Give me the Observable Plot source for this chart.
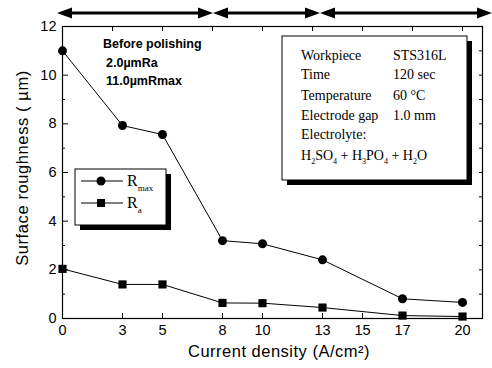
<!DOCTYPE html>
<html>
<head>
<meta charset="utf-8">
<script src="https://cdn.jsdelivr.net/npm/d3@7"></script>
<script src="https://cdn.jsdelivr.net/npm/@observablehq/plot@0.6"></script>
<style>
  body { margin: 0; background: #fff; }
  #chart svg { display: block; }
</style>
</head>
<body>
<div id="chart"></div>
<script>
// ---- data ----
const currentDensity = [0, 3, 5, 8, 10, 13, 17, 20];
const rmaxValues = [11.0, 7.93, 7.56, 3.2, 3.07, 2.41, 0.81, 0.66];
const raValues = [2.04, 1.40, 1.40, 0.64, 0.63, 0.45, 0.12, 0.08];
const xTicks = [0, 3, 5, 8, 10, 13, 15, 17, 20];
const yTicks = [0, 2, 4, 6, 8, 10, 12];
const yMinorTicks = [1, 3, 5, 7, 9, 11];
const topTicks = [2.5, 5, 7.5, 10, 12.5, 15, 17.5, 20];
const rightTicks = [1, 2, 3, 4, 5, 6, 7, 8, 9, 10, 11];
const regimeBounds = [-0.25, 7.55, 12.9, 21.5];
const infoLabels = ["Workpiece", "Time", "Temperature", "Electrode gap", "Electrolyte:"];
const infoValues = ["STS316L", "120 sec", "60 °C", "1.0 mm", ""];
const beforeText = ["Before polishing", "2.0µmRa", "11.0µmRmax"];

(function () {
const rmax = currentDensity.map((x, i) => ({x, y: rmaxValues[i]}));
const ra = currentDensity.map((x, i) => ({x, y: raValues[i]}));

const plot = Plot.plot({
  width: 492,
  height: 368,
  marginLeft: 62,
  marginRight: 10,
  marginTop: 26,
  marginBottom: 50,
  style: {fontFamily: "'Liberation Sans', Arial, sans-serif", fontSize: "14.5px", background: "white", color: "black"},
  x: {domain: [0, 21]},
  y: {domain: [0, 12]},
  marks: [
    Plot.frame({stroke: "black", strokeWidth: 1.2}),
    Plot.axisX({ticks: xTicks, tickSize: -5, tickPadding: 11, label: null, tickFormat: d => String(d)}),
    Plot.axisX({anchor: "top", ticks: topTicks, tickSize: -4, tickFormat: () => "", label: null}),
    Plot.axisY({ticks: yTicks, tickSize: -6, tickPadding: 12, label: null, tickFormat: d => String(d)}),
    Plot.axisY({ticks: yMinorTicks, tickSize: -3, tickFormat: () => "", label: null}),
    Plot.axisY({anchor: "right", ticks: rightTicks, tickSize: -4, tickFormat: () => "", label: null}),
    Plot.line(rmax, {x: "x", y: "y", stroke: "black", strokeWidth: 1}),
    Plot.line(ra, {x: "x", y: "y", stroke: "black", strokeWidth: 1}),
    Plot.dot(rmax, {x: "x", y: "y", r: 4.5, fill: "black", symbol: "circle"}),
    Plot.dot(ra, {x: "x", y: "y", r: 4.6, fill: "black", symbol: "square"})
  ]
});
document.getElementById("chart").appendChild(plot);

const svg = d3.select(plot);
const xs = v => plot.scale("x").apply(v);
const ys = v => plot.scale("y").apply(v);
const pLeft = xs(0), pRight = xs(21), pTop = ys(12), pBottom = ys(0);

// axis titles
svg.append("text")
  .attr("x", (pLeft + pRight) / 2 + 7).attr("y", 357)
  .attr("text-anchor", "middle")
  .style("font-size", "16.5px").style("letter-spacing", "0.5px")
  .text("Current density (A/cm²)");
svg.append("text")
  .attr("transform", `translate(28,${(pTop + pBottom) / 2 - 4}) rotate(-90)`)
  .attr("text-anchor", "middle")
  .style("font-size", "16.5px").style("letter-spacing", "0.6px")
  .text("Surface roughness ( µm)");

// regime arrows
const ay = 13;
const g = svg.append("g");
for (let i = 0; i < regimeBounds.length - 1; i++) {
  const a = xs(regimeBounds[i]), b = xs(regimeBounds[i + 1]);
  g.append("line").attr("x1", a + 8).attr("x2", b - 8).attr("y1", ay).attr("y2", ay)
    .attr("stroke", "black").attr("stroke-width", 3);
  g.append("path").attr("d", `M${a},${ay}L${a + 15},${ay - 5.5}L${a + 15},${ay + 5.5}Z`).attr("fill", "black");
  g.append("path").attr("d", `M${b},${ay}L${b - 15},${ay - 5.5}L${b - 15},${ay + 5.5}Z`).attr("fill", "black");
}

// before polishing text
beforeText.forEach((t, i) => {
  svg.append("text")
    .attr("x", i === 0 ? 103 : 106).attr("y", 48 + i * 18.5)
    .attr("text-anchor", "start")
    .style("font-size", "12.5px").style("font-weight", "bold")
    .text(t);
});

// info box
const bx = 282, by = 36, bw = 185, bh = 144;
svg.append("rect").attr("x", bx + 5).attr("y", by + 5).attr("width", bw).attr("height", bh).attr("fill", "black");
svg.append("rect").attr("x", bx).attr("y", by).attr("width", bw).attr("height", bh)
  .attr("fill", "white").attr("stroke", "black").attr("stroke-width", 1);
const serif = "'Liberation Serif', 'Times New Roman', serif";
const lineY = [60, 79, 100, 120, 139];
infoLabels.forEach((t, i) => {
  svg.append("text").attr("x", 301).attr("y", lineY[i]).attr("text-anchor", "start")
    .style("font-family", serif).style("font-size", "14px").text(t);
  if (infoValues[i]) {
    svg.append("text").attr("x", 393).attr("y", lineY[i]).attr("text-anchor", "start")
      .style("font-family", serif).style("font-size", "14px").text(infoValues[i]);
  }
});
const chem = svg.append("text").attr("x", 301).attr("y", 160).attr("text-anchor", "start")
  .style("font-family", serif).style("font-size", "14px");
[["H", 0], ["2", 1], ["SO", 0], ["4", 1], [" + H", 0], ["3", 1], ["PO", 0], ["4", 1], [" + H", 0], ["2", 1], ["O", 0]]
  .forEach(([s, sub], i, arr) => {
    const prevSub = i > 0 && arr[i - 1][1];
    chem.append("tspan")
      .attr("dy", sub ? 4 : (prevSub ? -4 : 0))
      .style("font-size", sub ? "8px" : "14px")
      .text(s);
  });

// legend
const lx = 75, ly = 169, lw = 91, lh = 56;
svg.append("rect").attr("x", lx + 5).attr("y", ly + 5).attr("width", lw).attr("height", lh).attr("fill", "black");
svg.append("rect").attr("x", lx).attr("y", ly).attr("width", lw).attr("height", lh)
  .attr("fill", "white").attr("stroke", "black").attr("stroke-width", 1);
const legendItems = [{sym: "circle", sub: "max", y: 181}, {sym: "square", sub: "a", y: 203}];
legendItems.forEach(it => {
  svg.append("line").attr("x1", 81).attr("x2", 123).attr("y1", it.y).attr("y2", it.y)
    .attr("stroke", "black").attr("stroke-width", 1);
  if (it.sym === "circle") {
    svg.append("circle").attr("cx", 101).attr("cy", it.y).attr("r", 4.5).attr("fill", "black");
  } else {
    svg.append("rect").attr("x", 97).attr("y", it.y - 4).attr("width", 8).attr("height", 8).attr("fill", "black");
  }
  const t = svg.append("text").attr("x", 127).attr("y", it.y + 5).attr("text-anchor", "start")
    .style("font-family", serif).style("font-size", "16px");
  t.append("tspan").text("R");
  t.append("tspan").attr("dy", 5).style("font-size", "9px").text(it.sub);
});
})();
</script>
</body>
</html>
